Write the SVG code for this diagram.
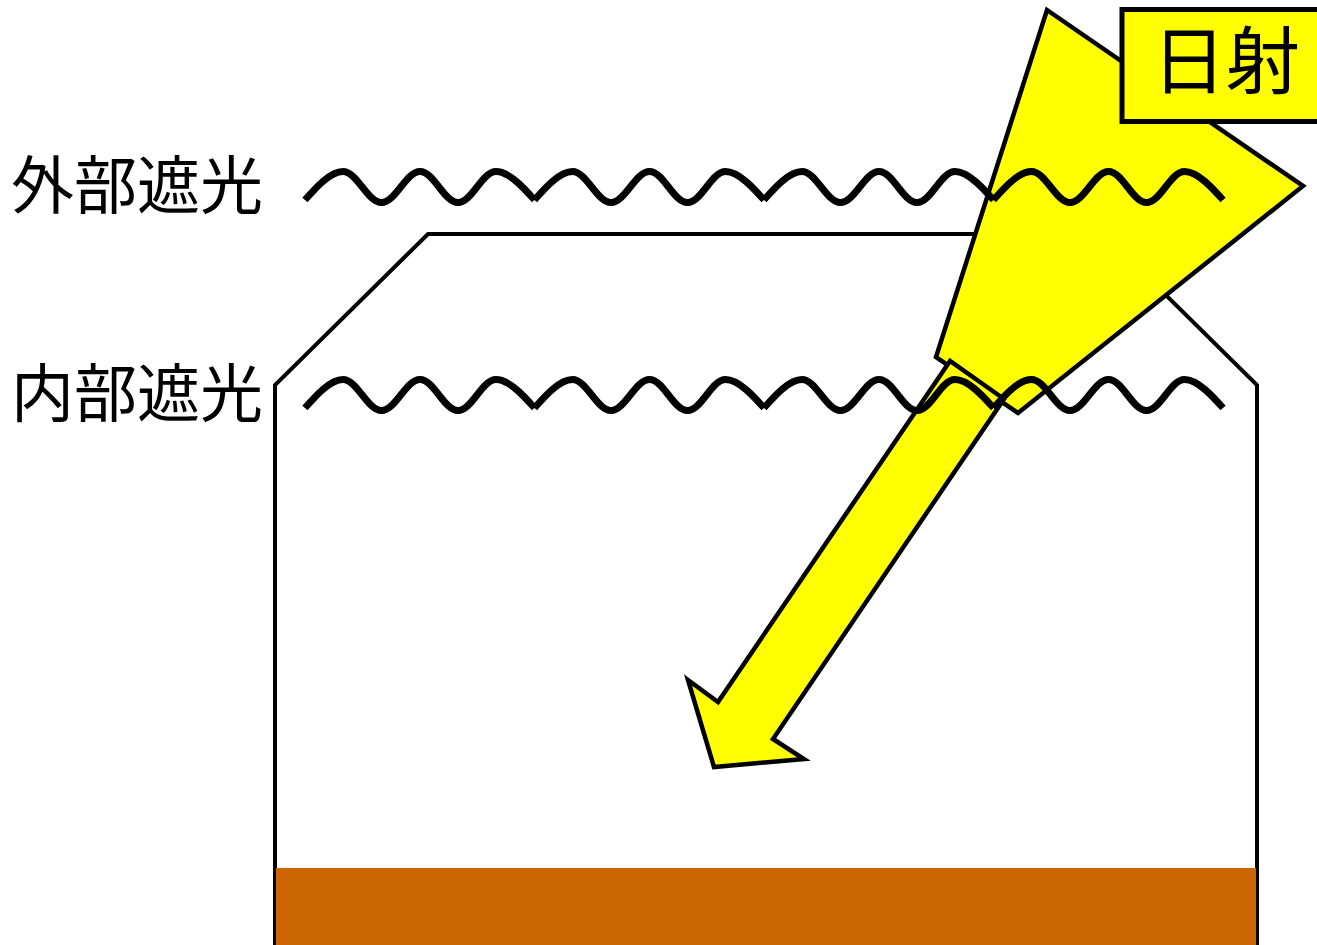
<svg xmlns="http://www.w3.org/2000/svg" xmlns:xlink="http://www.w3.org/1999/xlink" width="1317" height="945" viewBox="0 0 1317 945">
  <style>
    .outline { fill: none; stroke: #000; stroke-width: 4; stroke-linejoin: miter; }
    .wave { fill: none; stroke: #000; stroke-width: 7; stroke-linecap: butt; }
    .sun { fill: #FFFF00; stroke: #000; stroke-width: 4.5; stroke-linejoin: miter; }
    .lbl { font-family: "Noto Sans CJK JP", "Noto Sans CJK SC", sans-serif; fill: #000; }
  </style>
  <defs>
    <path id="waveSeg" class="wave" d="M0,13 C8,4 24,-15.5 38,-15.5 C52,-15.5 62.5,15.5 76.5,15.5 C90.5,15.5 101,-15.5 115,-15.5 C129,-15.5 139,15.5 153,15.5 C167,15.5 177,-15.5 191,-15.5 C205,-15.5 221.5,4 229.5,13"/>
  </defs>
  <rect x="0" y="0" width="1317" height="945" fill="#fff"/>

  <g id="greenhouse">
    <polyline class="outline" points="275,947 275,385 428,234 1104,234 1257,385 1257,947"/>
  </g>
  <g id="ground">
    <rect x="276" y="868" width="980" height="80" fill="#CC6600"/>
  </g>

  <g id="sunlight-beam">
    <polygon class="sun" points="1047,10 1303,186 1018,413 936,357"/>
  </g>

  <g id="connectors">
    <polygon id="transmitted-arrow" class="sun" points="950,361 718,702 688,680 714,767 804,759 773,739 1004,399"/>
  </g>

  <g id="outer-shade">
    <use xlink:href="#waveSeg" href="#waveSeg" transform="translate(305,187)"/>
    <use xlink:href="#waveSeg" href="#waveSeg" transform="translate(534.5,187)"/>
    <use xlink:href="#waveSeg" href="#waveSeg" transform="translate(764,187)"/>
    <use xlink:href="#waveSeg" href="#waveSeg" transform="translate(993.5,187)"/>
    <text class="lbl" x="11" y="208" font-size="63">外部遮光</text>
  </g>

  <g id="inner-shade">
    <use xlink:href="#waveSeg" href="#waveSeg" transform="translate(305,395)"/>
    <use xlink:href="#waveSeg" href="#waveSeg" transform="translate(534.5,395)"/>
    <use xlink:href="#waveSeg" href="#waveSeg" transform="translate(764,395)"/>
    <use xlink:href="#waveSeg" href="#waveSeg" transform="translate(993.5,395)"/>
    <text class="lbl" x="11" y="416" font-size="63">内部遮光</text>
  </g>

  <g id="label-sun">
    <rect x="1122" y="9.5" width="210" height="112" fill="#FFFF00" stroke="#000" stroke-width="5"/>
    <text class="lbl" x="1226" y="88" font-size="74" text-anchor="middle">日射</text>
  </g>
</svg>
